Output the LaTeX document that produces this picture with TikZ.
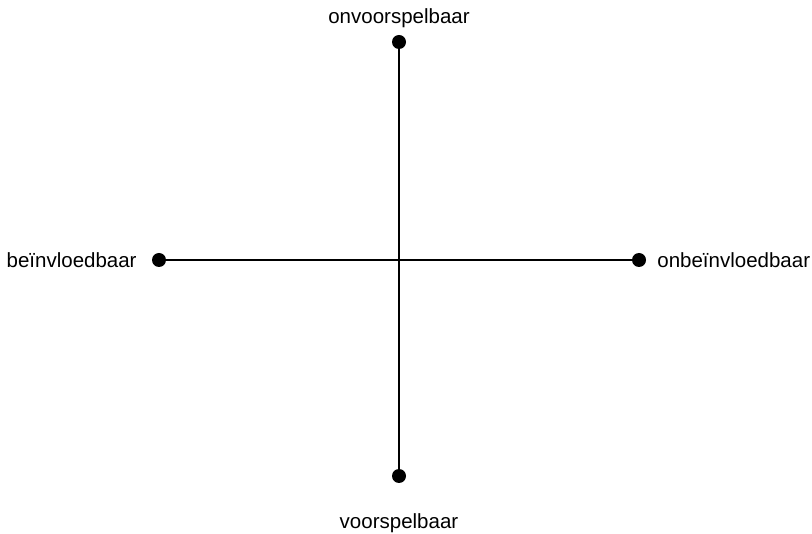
\documentclass[tikz,border=0pt]{standalone}
\usepackage{fontspec}
\setmainfont{Liberation Sans}
\usetikzlibrary{positioning}
\begin{document}
\begin{tikzpicture}[
x=1pt,y=-1pt,
dot/.style={circle,fill,inner sep=0pt,minimum size=14pt},
word/.style={font=\fontsize{20.5}{24}\selectfont,inner sep=0pt},
axis/.style={line width=1.6pt}
]
\useasboundingbox (0,0) rectangle (812,534);
\node[dot] (top) at (399,42) {};
\node[dot] (bottom) at (399,476) {};
\node[dot] (left) at (159,260) {};
\node[dot] (right) at (639,260) {};
\draw[axis] (top) -- (bottom);
\draw[axis] (left) -- (right);
\node[word,above=7pt of top] (onvoorspelbaar) {onvoorspelbaar};
\node[word,below=30pt of bottom] (voorspelbaar) {voorspelbaar};
\node[word,left=15pt of left] (beinvloedbaar) {beïnvloedbaar};
\node[word,right=11pt of right] (onbeinvloedbaar) {onbeïnvloedbaar};
\end{tikzpicture}
\end{document}
